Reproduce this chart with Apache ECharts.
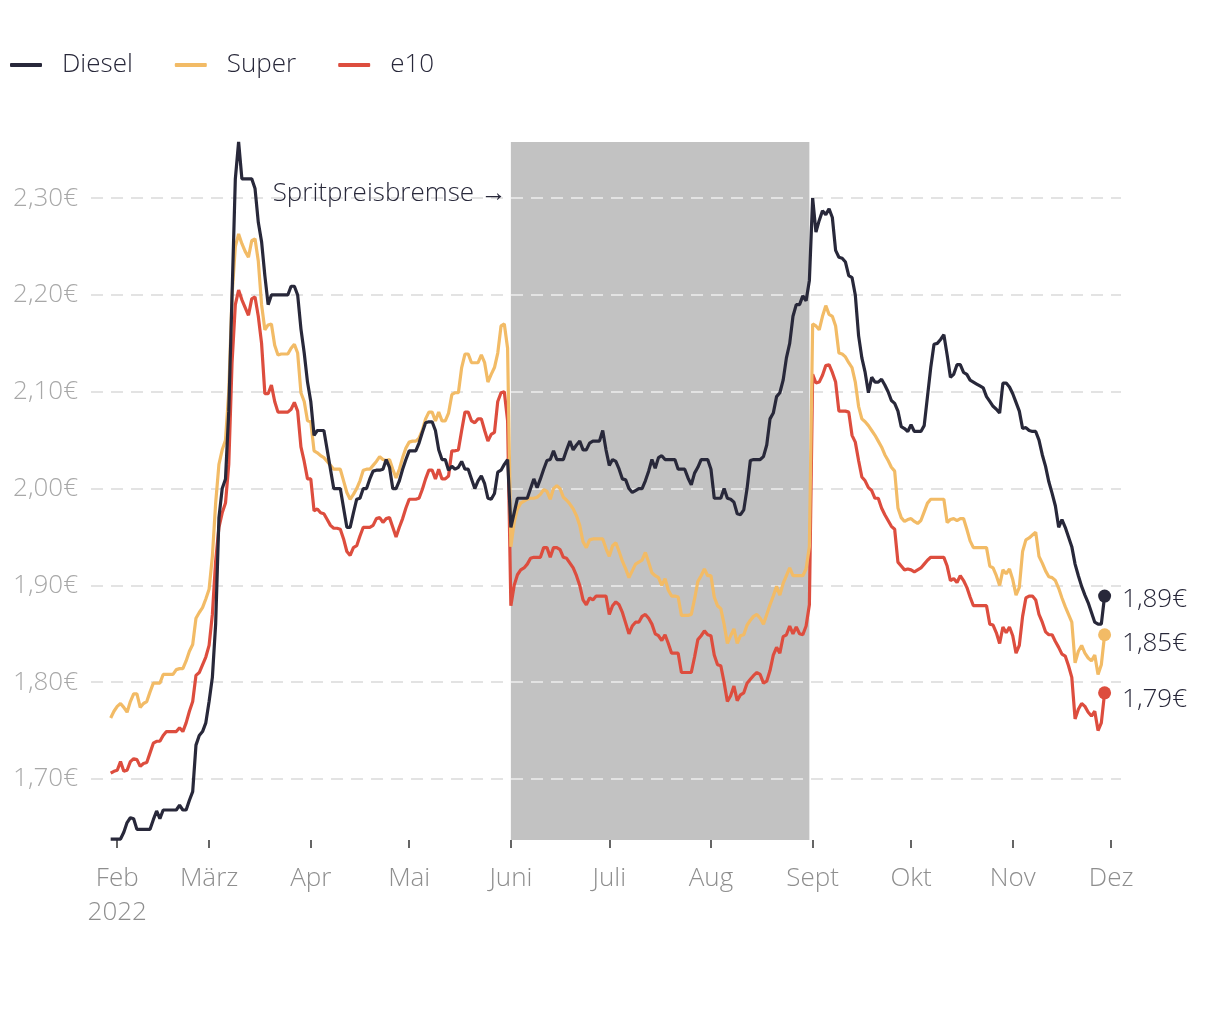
<!DOCTYPE html>
<html>
<head>
<meta charset="utf-8">
<script src="https://cdn.jsdelivr.net/npm/echarts@6/dist/echarts.min.js"></script>
<style>
  html, body { margin: 0; padding: 0; background: #ffffff; }
  #chart { width: 1220px; height: 1020px; }
</style>
</head>
<body>
<div id="chart"></div>
<script>
// ---- data (daily average prices, € per litre) ----
const axisStart = '2022-01-24';
const axisEnd = '2022-12-04';
const dataStart = '2022-01-30';
const monthLabels = ['Jan', 'Feb', 'März', 'Apr', 'Mai', 'Juni', 'Juli', 'Aug', 'Sept', 'Okt', 'Nov', 'Dez'];
const yTicks = [1.7, 1.8, 1.9, 2.0, 2.1, 2.2, 2.3];
const rebateStart = '2022-06-01';
const rebateEnd = '2022-08-31';
const rebateLabel = 'Spritpreisbremse \u2192';

const diesel = [
  1.638, 1.638,
  1.638, 1.638, 1.645, 1.655, 1.660, 1.659, 1.648, 1.648, 1.648, 1.648,
  1.648, 1.658, 1.667, 1.659, 1.668, 1.668, 1.668, 1.668, 1.668, 1.673,
  1.668, 1.668, 1.678, 1.687, 1.735, 1.745, 1.749, 1.758,
  1.780, 1.805, 1.860, 1.970, 2.000, 2.010, 2.080, 2.200, 2.320, 2.358,
  2.320, 2.320, 2.320, 2.320, 2.310, 2.275, 2.255, 2.220, 2.190, 2.200,
  2.200, 2.200, 2.200, 2.200, 2.200, 2.209, 2.209, 2.200, 2.165, 2.140, 2.110,
  2.090, 2.055, 2.060, 2.060, 2.060, 2.040, 2.020, 2.000, 2.000, 2.000,
  1.980, 1.960, 1.960, 1.975, 1.989, 1.990, 2.000, 2.000, 2.010, 2.018,
  2.019, 2.019, 2.020, 2.030, 2.022, 2.000, 2.000, 2.008, 2.020, 2.030,
  2.039, 2.039, 2.039, 2.047, 2.058, 2.068, 2.069, 2.069, 2.060, 2.040,
  2.030, 2.030, 2.019, 2.023, 2.020, 2.022, 2.028, 2.020, 2.020, 2.010,
  2.000, 2.008, 2.013, 2.005, 1.990, 1.989, 1.995, 2.017, 2.019, 2.025, 2.030,
  1.960, 1.975, 1.990, 1.990, 1.990, 1.990, 2.000, 2.010, 2.001, 2.010,
  2.020, 2.029, 2.030, 2.039, 2.030, 2.030, 2.030, 2.040, 2.049, 2.040,
  2.045, 2.049, 2.040, 2.040, 2.047, 2.049, 2.049, 2.049, 2.060, 2.040,
  2.024, 2.030, 2.028, 2.020, 2.010, 2.009, 2.000, 1.996, 1.998, 2.000,
  2.000, 2.008, 2.018, 2.030, 2.021, 2.032, 2.034, 2.030, 2.030, 2.030,
  2.030, 2.020, 2.020, 2.020, 2.011, 2.004, 2.016, 2.022, 2.030, 2.030, 2.030,
  2.020, 1.990, 1.990, 1.990, 2.000, 1.990, 1.989, 1.986, 1.974, 1.973,
  1.978, 2.000, 2.029, 2.030, 2.030, 2.030, 2.033, 2.045, 2.072, 2.078,
  2.095, 2.099, 2.112, 2.135, 2.150, 2.178, 2.190, 2.190, 2.199, 2.194, 2.215,
  2.300, 2.265, 2.277, 2.287, 2.283, 2.289, 2.280, 2.246, 2.239, 2.238,
  2.234, 2.220, 2.218, 2.200, 2.158, 2.135, 2.120, 2.099, 2.115, 2.110,
  2.110, 2.113, 2.107, 2.100, 2.091, 2.088, 2.080, 2.064, 2.062, 2.059,
  2.066, 2.059, 2.059, 2.059, 2.065, 2.095, 2.125, 2.149, 2.150, 2.154,
  2.159, 2.138, 2.115, 2.118, 2.128, 2.128, 2.120, 2.118, 2.112, 2.110,
  2.108, 2.106, 2.104, 2.095, 2.090, 2.085, 2.082, 2.078, 2.109, 2.109, 2.105,
  2.098, 2.089, 2.080, 2.062, 2.063, 2.060, 2.059, 2.059, 2.050, 2.035,
  2.023, 2.007, 1.995, 1.982, 1.960, 1.968, 1.960, 1.950, 1.940, 1.922,
  1.910, 1.899, 1.890, 1.882, 1.872, 1.862, 1.860, 1.860, 1.889
];

const superE5 = [
  1.763, 1.770,
  1.775, 1.778, 1.774, 1.769, 1.780, 1.788, 1.788, 1.774, 1.778, 1.780,
  1.790, 1.799, 1.799, 1.799, 1.808, 1.808, 1.808, 1.808, 1.813, 1.814,
  1.814, 1.822, 1.832, 1.839, 1.866, 1.872, 1.877, 1.886,
  1.896, 1.930, 1.985, 2.025, 2.040, 2.050, 2.100, 2.200, 2.250, 2.263,
  2.253, 2.245, 2.239, 2.256, 2.258, 2.235, 2.190, 2.164, 2.169, 2.170,
  2.148, 2.138, 2.139, 2.139, 2.139, 2.145, 2.149, 2.140, 2.099, 2.090, 2.070,
  2.069, 2.039, 2.037, 2.034, 2.032, 2.028, 2.024, 2.020, 2.020, 2.020,
  2.008, 1.996, 1.989, 1.994, 2.000, 2.008, 2.019, 2.020, 2.020, 2.024,
  2.028, 2.033, 2.030, 2.029, 2.030, 2.020, 2.011, 2.020, 2.032, 2.042,
  2.048, 2.049, 2.049, 2.052, 2.060, 2.072, 2.079, 2.079, 2.070, 2.079,
  2.070, 2.070, 2.078, 2.097, 2.099, 2.099, 2.125, 2.139, 2.139, 2.130,
  2.130, 2.130, 2.138, 2.130, 2.110, 2.118, 2.125, 2.140, 2.168, 2.170, 2.145,
  1.940, 1.965, 1.979, 1.985, 1.987, 1.989, 1.990, 1.990, 1.991, 1.994,
  1.999, 1.997, 1.989, 2.000, 2.003, 2.000, 1.991, 1.988, 1.984, 1.979,
  1.972, 1.962, 1.945, 1.939, 1.947, 1.948, 1.948, 1.948, 1.948, 1.938,
  1.930, 1.941, 1.944, 1.935, 1.925, 1.917, 1.908, 1.915, 1.922, 1.924,
  1.926, 1.934, 1.924, 1.913, 1.910, 1.908, 1.900, 1.907, 1.895, 1.889,
  1.889, 1.888, 1.869, 1.869, 1.869, 1.870, 1.886, 1.904, 1.910, 1.917, 1.910,
  1.910, 1.888, 1.879, 1.876, 1.860, 1.840, 1.848, 1.855, 1.840, 1.848,
  1.849, 1.859, 1.864, 1.868, 1.870, 1.866, 1.860, 1.870, 1.880, 1.889,
  1.899, 1.890, 1.902, 1.910, 1.918, 1.910, 1.910, 1.910, 1.910, 1.917, 1.940,
  2.170, 2.168, 2.164, 2.178, 2.189, 2.180, 2.178, 2.168, 2.140, 2.139,
  2.136, 2.130, 2.125, 2.110, 2.085, 2.072, 2.069, 2.065, 2.060, 2.055,
  2.049, 2.043, 2.035, 2.029, 2.022, 2.018, 1.980, 1.970, 1.966, 1.968,
  1.969, 1.966, 1.964, 1.967, 1.976, 1.985, 1.989, 1.989, 1.989, 1.989,
  1.989, 1.965, 1.968, 1.969, 1.967, 1.969, 1.969, 1.958, 1.946, 1.939,
  1.939, 1.939, 1.939, 1.939, 1.920, 1.918, 1.910, 1.900, 1.916, 1.912, 1.917,
  1.906, 1.890, 1.898, 1.935, 1.947, 1.949, 1.952, 1.955, 1.930, 1.923,
  1.915, 1.909, 1.908, 1.905, 1.897, 1.887, 1.878, 1.870, 1.862, 1.820,
  1.832, 1.838, 1.830, 1.825, 1.822, 1.828, 1.808, 1.818, 1.849
];

const e10 = [
  1.706, 1.708,
  1.709, 1.718, 1.708, 1.709, 1.718, 1.721, 1.720, 1.713, 1.716, 1.717,
  1.727, 1.737, 1.739, 1.739, 1.745, 1.749, 1.749, 1.749, 1.749, 1.753,
  1.749, 1.758, 1.770, 1.780, 1.807, 1.810, 1.818, 1.826,
  1.838, 1.870, 1.925, 1.960, 1.975, 1.985, 2.025, 2.130, 2.190, 2.205,
  2.195, 2.187, 2.179, 2.196, 2.198, 2.178, 2.150, 2.098, 2.098, 2.107,
  2.090, 2.079, 2.079, 2.079, 2.079, 2.082, 2.089, 2.080, 2.043, 2.028, 2.010,
  2.010, 1.977, 1.979, 1.975, 1.974, 1.968, 1.962, 1.959, 1.959, 1.958,
  1.948, 1.935, 1.931, 1.939, 1.941, 1.951, 1.960, 1.960, 1.960, 1.962,
  1.969, 1.970, 1.965, 1.969, 1.970, 1.960, 1.950, 1.960, 1.969, 1.980,
  1.989, 1.989, 1.989, 1.990, 1.999, 2.010, 2.019, 2.019, 2.010, 2.020,
  2.010, 2.010, 2.013, 2.039, 2.039, 2.040, 2.060, 2.079, 2.079, 2.070,
  2.068, 2.072, 2.072, 2.060, 2.049, 2.056, 2.058, 2.090, 2.099, 2.100, 2.070,
  1.879, 1.900, 1.911, 1.916, 1.918, 1.922, 1.928, 1.929, 1.929, 1.929,
  1.939, 1.939, 1.929, 1.939, 1.939, 1.937, 1.929, 1.928, 1.923, 1.918,
  1.910, 1.900, 1.885, 1.880, 1.887, 1.885, 1.889, 1.889, 1.889, 1.889,
  1.870, 1.879, 1.883, 1.880, 1.872, 1.861, 1.850, 1.858, 1.862, 1.862,
  1.868, 1.870, 1.866, 1.860, 1.850, 1.848, 1.843, 1.849, 1.840, 1.830,
  1.830, 1.830, 1.810, 1.810, 1.810, 1.810, 1.826, 1.844, 1.848, 1.853, 1.849,
  1.848, 1.828, 1.818, 1.817, 1.800, 1.780, 1.786, 1.796, 1.781, 1.787,
  1.789, 1.799, 1.803, 1.807, 1.810, 1.808, 1.799, 1.801, 1.812, 1.828,
  1.836, 1.830, 1.847, 1.849, 1.858, 1.850, 1.857, 1.850, 1.849, 1.858, 1.880,
  2.118, 2.109, 2.110, 2.117, 2.127, 2.128, 2.120, 2.110, 2.080, 2.080,
  2.080, 2.079, 2.055, 2.048, 2.029, 2.012, 2.008, 2.001, 1.998, 1.990,
  1.990, 1.980, 1.973, 1.967, 1.961, 1.958, 1.924, 1.920, 1.916, 1.917,
  1.916, 1.914, 1.916, 1.918, 1.922, 1.926, 1.929, 1.929, 1.929, 1.929,
  1.929, 1.920, 1.905, 1.907, 1.903, 1.910, 1.905, 1.898, 1.888, 1.879,
  1.879, 1.879, 1.879, 1.879, 1.860, 1.859, 1.851, 1.840, 1.857, 1.851, 1.857,
  1.848, 1.830, 1.838, 1.868, 1.887, 1.889, 1.889, 1.885, 1.870, 1.862,
  1.852, 1.849, 1.849, 1.842, 1.836, 1.829, 1.827, 1.817, 1.805, 1.762,
  1.772, 1.778, 1.775, 1.769, 1.765, 1.770, 1.750, 1.758, 1.789
];

// ---- build daily category axis ----
function fmtDate(d) {
  const m = String(d.getMonth() + 1).padStart(2, '0');
  const dd = String(d.getDate()).padStart(2, '0');
  return d.getFullYear() + '-' + m + '-' + dd;
}
function parseDate(s) {
  const p = s.split('-').map(Number);
  return new Date(p[0], p[1] - 1, p[2]);
}
const days = [];
for (let d = parseDate(axisStart); d <= parseDate(axisEnd); d.setDate(d.getDate() + 1)) {
  days.push(fmtDate(d));
}
const offset = days.indexOf(dataStart);
function align(arr) {
  return days.map(function (_, i) {
    const k = i - offset;
    return (k >= 0 && k < arr.length) ? arr[k] : null;
  });
}
function lastDay(arr) { return days[offset + arr.length - 1]; }
function euro(v) { return v.toFixed(2).replace('.', ',') + '\u20ac'; }

const FONT = '"Open Sans", "Noto Sans", sans-serif';
const FS = 26;
const DARK = '#28283a';
const colors = { Diesel: '#28283a', Super: '#f2bb66', e10: '#dd4d3e' };

function endPoint(arr, color, dy) {
  const v = arr[arr.length - 1];
  return {
    symbol: 'circle',
    symbolSize: 13,
    silent: true,
    itemStyle: { color: color },
    label: {
      show: true, position: 'right', distance: 11,
      formatter: euro(v),
      color: DARK, fontSize: FS, fontFamily: FONT, fontWeight: 300,
      offset: [0, dy]
    },
    data: [{ coord: [lastDay(arr), v] }]
  };
}

const chart = echarts.init(document.getElementById('chart'), null, { renderer: 'canvas' });

const option = {
  animation: false,
  backgroundColor: '#ffffff',
  textStyle: { fontFamily: FONT },
  legend: {
    data: ['Diesel', 'Super', 'e10'],
    left: 5,
    top: 47,
    icon: 'roundRect',
    itemWidth: 32,
    itemHeight: 4,
    itemGap: 42,
    textStyle: { fontSize: FS, color: DARK, fontFamily: FONT, fontWeight: 300, padding: [0, 0, 0, 15] }
  },
  grid: { left: 91, right: 99, top: 142, bottom: 180, containLabel: false },
  xAxis: {
    type: 'category',
    data: days,
    boundaryGap: false,
    axisLine: { show: false },
    axisTick: {
      show: true, length: 8, lineStyle: { color: '#333333', width: 1.5 },
      interval: function (i, v) { return v.slice(8) === '01'; }
    },
    axisLabel: {
      interval: function (i, v) { return v.slice(8) === '01'; },
      margin: 22,
      fontSize: FS,
      lineHeight: 34,
      color: '#8e8e8e',
      fontFamily: FONT,
      fontWeight: 300,
      formatter: function (v) {
        const m = Number(v.slice(5, 7)) - 1;
        return m === 1 ? monthLabels[m] + '\n' + v.slice(0, 4) : monthLabels[m];
      }
    },
    splitLine: { show: false }
  },
  yAxis: {
    type: 'value',
    min: 1.637,
    max: 2.358,
    axisLine: { show: false },
    axisTick: { show: false },
    splitLine: { show: false },
    axisLabel: {
      customValues: yTicks,
      margin: 13,
      fontSize: FS,
      color: '#a8a8a8',
      fontFamily: FONT,
      fontWeight: 300,
      formatter: function (v) { return euro(v); }
    }
  },
  series: [
    {
      name: 'e10', type: 'line', data: align(e10), showSymbol: false, z: 3,
      lineStyle: { color: colors.e10, width: 3.2 }, itemStyle: { color: colors.e10 },
      markPoint: endPoint(e10, colors.e10, 7)
    },
    {
      name: 'Super', type: 'line', data: align(superE5), showSymbol: false, z: 3,
      lineStyle: { color: colors.Super, width: 3.2 }, itemStyle: { color: colors.Super },
      markPoint: endPoint(superE5, colors.Super, 9)
    },
    {
      name: 'Diesel', type: 'line', data: align(diesel), showSymbol: false, z: 4,
      lineStyle: { color: colors.Diesel, width: 3.2 }, itemStyle: { color: colors.Diesel },
      markPoint: endPoint(diesel, colors.Diesel, 4)
    },
    {
      name: 'helper', type: 'line', data: [], silent: true,
      markArea: {
        silent: true, z: 1,
        itemStyle: { color: '#c2c2c2' },
        data: [[{ xAxis: rebateStart }, { xAxis: rebateEnd }]]
      },
      markLine: {
        silent: true, z: 2, symbol: 'none',
        lineStyle: { type: [12, 8], color: '#e3e3e3', width: 2 },
        label: { show: false },
        data: yTicks.map(function (v) { return { yAxis: v }; })
      },
      markPoint: {
        silent: true, z: 5,
        symbol: 'circle', symbolSize: 0,
        label: {
          show: true, position: 'left', distance: 4,
          formatter: rebateLabel,
          color: DARK, fontSize: FS, fontFamily: FONT, fontWeight: 300
        },
        data: [{ coord: [rebateStart, 2.305] }]
      }
    }
  ]
};
chart.setOption(option);
</script>
</body>
</html>
